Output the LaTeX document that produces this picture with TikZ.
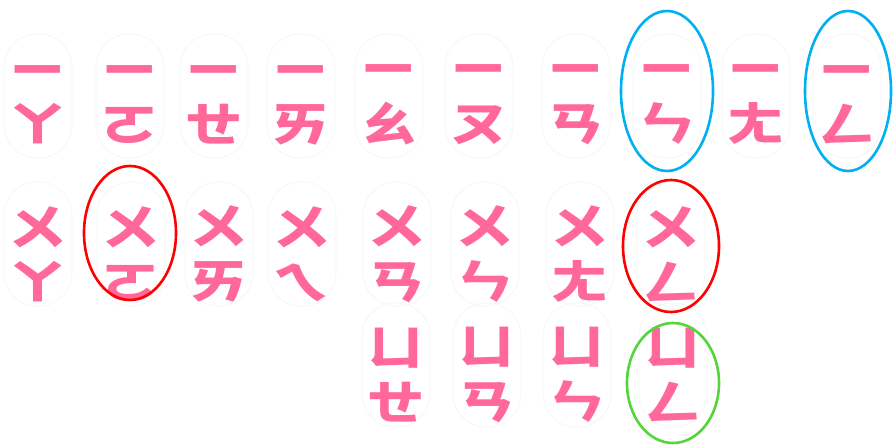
\documentclass[tikz,border=0pt]{standalone}
\usepackage{fontspec}
\newfontfamily\zhuyin{Noto Sans CJK TC}[FakeStretch=1.22]
\usetikzlibrary{shapes}
\definecolor{zhuyinpink}{RGB}{255,104,152}
\definecolor{ringblue}{RGB}{0,176,240}
\definecolor{ringred}{RGB}{255,0,0}
\definecolor{ringgreen}{RGB}{84,214,58}
\tikzset{
    card/.style={draw=black!4, line width=0.8pt, rounded corners=33pt,
        minimum width=68pt, minimum height=124pt, inner sep=0pt}, % one rounded card per syllable
    letters/.style={text=zhuyinpink, align=center, inner sep=0pt,
        font=\zhuyin\bfseries\fontsize{48}{55}\selectfont}, % the two symbols on a card
    ring/.style={line width=2.6pt}, % the coloured marks round some cards
}
\begin{document}
\begin{tikzpicture}[x=1pt, y=-1pt]
    \useasboundingbox (0,0) rectangle (894,446);
    % row 1: i-
    \foreach \px/\nm/\txt in {38/r1c1/{ㄧ\\ㄚ}, 130/r1c2/{ㄧ\\ㄛ}, 214/r1c3/{ㄧ\\ㄝ},
        301/r1c4/{ㄧ\\ㄞ}, 389/r1c5/{ㄧ\\ㄠ}, 479/r1c6/{ㄧ\\ㄡ}, 576/r1c7/{ㄧ\\ㄢ},
        667/r1c8/{ㄧ\\ㄣ}, 756/r1c9/{ㄧ\\ㄤ}, 847/r1c10/{ㄧ\\ㄥ}}
    {
        \node[card] (\nm) at (\px,96) {};
        \node[letters] (\nm-t) at ([yshift=-9pt]\nm.center) {\txt};
    }
    % row 2: u-
    \foreach \px/\nm/\txt in {38/r2c1/{ㄨ\\ㄚ}, 131/r2c2/{ㄨ\\ㄛ}, 219/r2c3/{ㄨ\\ㄞ},
        302/r2c4/{ㄨ\\ㄟ}, 397/r2c5/{ㄨ\\ㄢ}, 485/r2c6/{ㄨ\\ㄣ}, 580/r2c7/{ㄨ\\ㄤ},
        671/r2c8/{ㄨ\\ㄥ}}
    {
        \node[card] (\nm) at (\px,244) {};
        \node[letters] (\nm-t) at ([yshift=-10pt]\nm.center) {\txt};
    }
    % row 3: ü-
    \foreach \px/\nm/\txt in {396/r3c5/{ㄩ\\ㄝ}, 487/r3c6/{ㄩ\\ㄢ}, 577/r3c7/{ㄩ\\ㄣ},
        673/r3c8/{ㄩ\\ㄥ}}
    {
        \node[card] (\nm) at (\px,365) {};
        \node[letters] (\nm-t) at ([yshift=-10pt]\nm.center) {\txt};
    }

    \draw[ring, ringblue] ([yshift=5pt]r1c8.center) ellipse (46 and 80);
    \draw[ring, ringblue] ([xshift=1pt, yshift=5pt]r1c10.center) ellipse (43 and 80);
    \draw[ring, ringred] ([xshift=-1pt, yshift=11pt]r2c2.center) ellipse (46 and 67);
    \draw[ring, ringred] ([yshift=-2pt]r2c8.center) ellipse (48 and 66);
    \draw[ring, ringgreen] ([yshift=-18pt]r3c8.center) ellipse (46 and 60);
\end{tikzpicture}
\end{document}
